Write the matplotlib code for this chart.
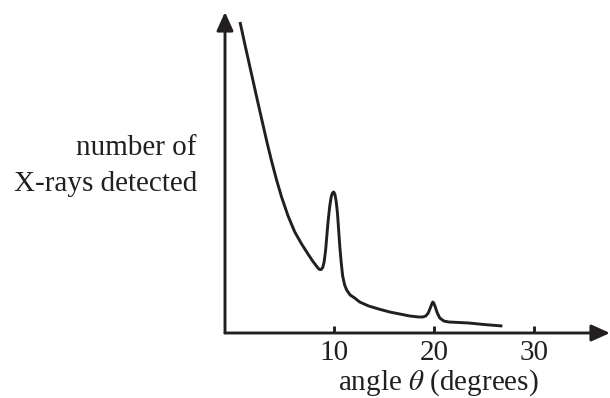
import matplotlib
matplotlib.use("Agg")
import matplotlib.pyplot as plt

plt.rcParams['font.family'] = ['Liberation Serif', 'DejaVu Serif']
plt.rcParams['mathtext.fontset'] = 'stix'

# Data (angle in degrees, detected count in arbitrary units)
angle = [0.65, 1.15, 1.64, 2.0, 2.31, 2.65, 2.97, 3.36, 3.80, 4.3, 4.80, 5.45,
         6.12, 6.8, 7.44, 7.9, 8.28, 8.48, 8.61, 8.75, 8.91, 9.05, 9.2, 9.43,
         9.6, 9.75, 9.88, 10.0, 10.12, 10.25, 10.38, 10.5, 10.62, 10.75, 10.9,
         11.1, 11.3, 11.65, 12.1, 12.6, 13.5, 14.5, 15.6, 16.6, 17.6, 18.5,
         18.9, 19.2, 19.45, 19.65, 19.8, 19.9, 20.0, 20.15, 20.35, 20.6, 21.0,
         21.5, 22.5, 23.5, 25.0, 26.85]
counts = [311, 288, 266, 250, 236, 221, 207, 190, 172, 153, 136, 117,
          101, 89, 79, 72, 67, 64.5, 63.5, 63.5, 65.5, 71, 83, 110,
          126, 136, 140, 141, 139, 132, 120, 103, 86, 71, 57,
          48, 43, 38, 35, 31, 27, 24, 21, 19, 17, 16,
          16, 17, 20, 25, 29, 31, 30, 26, 20, 15, 12,
          11, 10.5, 10, 8.5, 7]

xticks = [10, 20, 30]
xtick_labels = ['10', '20', '30']
x_label = r'angle $\theta$ (degrees)'
y_label = 'number of\nX-rays detected'

fig = plt.figure(figsize=(6.10, 3.98), dpi=100)
W, H = 610, 398
x0, x1 = -0.85, 37.6
y0, y1 = 0, 321
ax = fig.add_axes([225 / W, (H - 333) / H, (610 - 225) / W, (333 - 12) / H])
ax.set_xlim(x0, x1)
ax.set_ylim(y0, y1)
for s in ax.spines.values():
    s.set_visible(False)

ink = '#231f20'
lw = 2.1
arrow = dict(arrowstyle='-|>,head_length=0.8,head_width=0.36', lw=lw, color=ink,
             shrinkA=0, shrinkB=0, mutation_scale=14)
ax.annotate('', xy=(x1, 0), xytext=(x0, 0), arrowprops=arrow, annotation_clip=False)
ax.annotate('', xy=(x0, y1), xytext=(x0, 0), arrowprops=arrow, annotation_clip=False)

ax.plot(angle, counts, color=ink, lw=2.1, solid_capstyle='butt', solid_joinstyle='round')

ax.set_xticks(xticks)
ax.set_xticklabels(xtick_labels, fontsize=21)
ax.tick_params(axis='x', direction='in', length=5, width=lw, color=ink,
               pad=5, labelcolor=ink)
ax.set_yticks([])

fig.text(338 / W, 1 - 383 / H, x_label, fontsize=21, color=ink,
         ha='left', va='center')
fig.text(197 / W, 1 - 166 / H, y_label, fontsize=21, color=ink,
         ha='right', va='center', multialignment='right', linespacing=1.48)

fig.savefig('out.png', dpi=100)
